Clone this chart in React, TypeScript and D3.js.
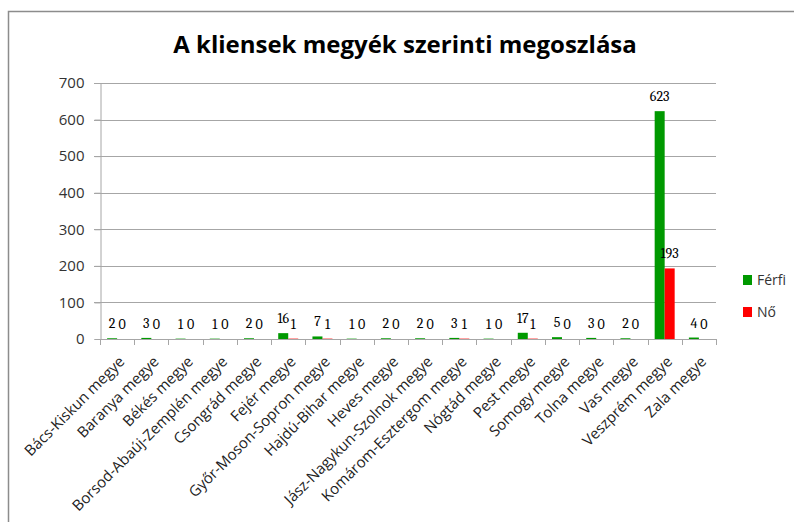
import { useRef, useEffect } from "react";
import * as d3 from "d3";

const counties: string[] = [
  "Bács-Kiskun megye",
  "Baranya megye",
  "Békés megye",
  "Borsod-Abaúj-Zemplén megye",
  "Csongrád megye",
  "Fejér megye",
  "Győr-Moson-Sopron megye",
  "Hajdú-Bihar megye",
  "Heves megye",
  "Jász-Nagykun-Szolnok megye",
  "Komárom-Esztergom megye",
  "Nógtád megye",
  "Pest megye",
  "Somogy megye",
  "Tolna megye",
  "Vas megye",
  "Veszprém megye",
  "Zala megye",
];
const ferfi: number[] = [2, 3, 1, 1, 2, 16, 7, 1, 2, 2, 3, 1, 17, 5, 3, 2, 623, 4];
const no: number[] = [0, 0, 0, 0, 0, 1, 1, 0, 0, 0, 1, 0, 1, 0, 0, 0, 193, 0];
const seriesNames: string[] = ["Férfi", "Nő"];
const seriesColors: string[] = ["#009900", "#ff0000"];
const yTicks: number[] = [0, 100, 200, 300, 400, 500, 600, 700];

const W = 794;
const H = 522;

const App = () => {
  const svgRef = useRef(null);

  useEffect(() => {
    if (!svgRef.current) return;
    const svg = d3.select(svgRef.current);
    svg.selectAll("*").remove();

    const margin = { left: 100, right: 716, top: 83, bottom: 339 };
    const sans = "'Open Sans', sans-serif";

    // outer frame
    svg
      .append("path")
      .attr("d", `M8.5,${H + 5}V11.5H${W + 5}`)
      .attr("fill", "none")
      .attr("stroke", "#8c8c8c")
      .attr("stroke-width", 1.5);

    // title
    svg
      .append("text")
      .attr("x", 405)
      .attr("y", 53)
      .attr("text-anchor", "middle")
      .attr("font-family", sans)
      .attr("font-weight", "bold")
      .attr("font-size", 24)
      .attr("fill", "#000")
      .text("A kliensek megyék szerinti megoszlása");

    const x = d3
      .scaleBand<string>()
      .domain(counties)
      .range([margin.left, margin.right])
      .paddingInner(0)
      .paddingOuter(0);
    const xs = d3
      .scaleBand<string>()
      .domain(seriesNames)
      .range([0, 20]);
    const y = d3
      .scaleLinear()
      .domain([0, 700])
      .range([margin.bottom, margin.top]);

    // gridlines
    svg
      .append("g")
      .selectAll("line")
      .data(yTicks.filter((t) => t > 0))
      .join("line")
      .attr("x1", margin.left - 6)
      .attr("x2", margin.right)
      .attr("y1", (d) => Math.round(y(d)) + 0.5)
      .attr("y2", (d) => Math.round(y(d)) + 0.5)
      .attr("stroke", "#a6a6a6")
      .attr("stroke-width", 1);

    // y axis
    const yAxis = svg
      .append("g")
      .attr("transform", `translate(${margin.left + 0.5},0)`)
      .call(d3.axisLeft(y).tickValues(yTicks).tickSize(6).tickPadding(10));
    yAxis.select(".domain").attr("stroke", "#a6a6a6");
    yAxis.selectAll(".tick line").attr("stroke", "#a6a6a6");
    yAxis
      .selectAll(".tick text")
      .attr("font-family", sans)
      .attr("font-size", 15)
      .attr("fill", "#333");

    // bars
    const seriesData = [ferfi, no];
    seriesData.forEach((vals, si) => {
      const g = svg.append("g");
      g.selectAll("rect")
        .data(vals)
        .join("rect")
        .attr("x", (_, i) => x(counties[i])! + x.bandwidth() / 2 - 10 + xs(seriesNames[si])!)
        .attr("width", xs.bandwidth())
        .attr("y", (d) => y(d))
        .attr("height", (d) => y(0) - y(d))
        .attr("fill", seriesColors[si]);
      g.selectAll("text")
        .data(vals)
        .join("text")
        .attr("x", (_, i) => x(counties[i])! + x.bandwidth() / 2 - 10 + xs(seriesNames[si])! + xs.bandwidth() / 2)
        .attr("y", (d) => y(d) - 10)
        .attr("text-anchor", "middle")
        .attr("font-family", "Cambria, 'Liberation Serif', serif")
        .attr("font-size", 14)
        .attr("fill", "#000")
        .text((d) => String(d));
    });

    // x axis
    const xAxis = svg.append("g");
    xAxis
      .append("line")
      .attr("x1", margin.left)
      .attr("x2", margin.right + 1)
      .attr("y1", margin.bottom + 0.5)
      .attr("y2", margin.bottom + 0.5)
      .attr("stroke", "#a6a6a6");
    xAxis
      .selectAll("line.tk")
      .data(d3.range(counties.length + 1))
      .join("line")
      .attr("class", "tk")
      .attr("x1", (i) => Math.round(margin.left + i * x.step()) + 0.5)
      .attr("x2", (i) => Math.round(margin.left + i * x.step()) + 0.5)
      .attr("y1", margin.bottom)
      .attr("y2", margin.bottom + 6)
      .attr("stroke", "#a6a6a6");
    xAxis
      .selectAll("text")
      .data(counties)
      .join("text")
      .attr(
        "transform",
        (d) => `translate(${x(d)! + x.bandwidth() / 2 + 1},${margin.bottom + 16}) rotate(-45)`
      )
      .attr("text-anchor", "end")
      .attr("dy", "0.7em")
      .attr("font-family", sans)
      .attr("font-size", 15)
      .attr("fill", "#222")
      .text((d) => d);

    // legend
    const legend = svg.append("g");
    seriesNames.forEach((name, i) => {
      legend
        .append("rect")
        .attr("x", 743)
        .attr("y", 275 + i * 32)
        .attr("width", 9)
        .attr("height", 10)
        .attr("fill", seriesColors[i]);
      legend
        .append("text")
        .attr("x", 757)
        .attr("y", 285 + i * 32)
        .attr("font-family", sans)
        .attr("font-size", 14)
        .attr("fill", "#333")
        .text(name);
    });
  }, []);

  return (
    <svg
      ref={svgRef}
      width={W}
      height={H}
      style={{ position: "absolute", left: 0, top: 0, background: "#fff" }}
    />
  );
};

export default App;
